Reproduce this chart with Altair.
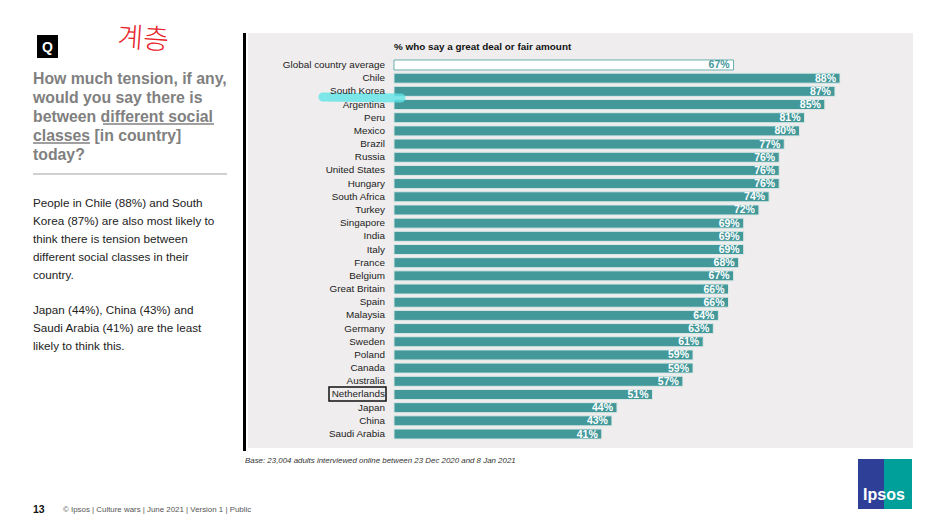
import altair as alt
import pandas as pd

countries = ["Global country average", "Chile", "South Korea", "Argentina", "Peru", "Mexico",
             "Brazil", "Russia", "United States", "Hungary", "South Africa", "Turkey",
             "Singapore", "India", "Italy", "France", "Belgium", "Great Britain", "Spain",
             "Malaysia", "Germany", "Sweden", "Poland", "Canada", "Australia", "Netherlands",
             "Japan", "China", "Saudi Arabia"]
values = [67, 88, 87, 85, 81, 80, 77, 76, 76, 76, 74, 72, 69, 69, 69, 68, 67, 66, 66,
          64, 63, 61, 59, 59, 57, 51, 44, 43, 41]

chart_title = "% who say a great deal or fair amount"
question_lines = ["How much tension, if any,", "would you say there is",
                  "between different social", "classes [in country]", "today?"]
body1 = ["People in Chile (88%) and South", "Korea (87%) are also most likely to",
         "think there is tension between", "different social classes in their", "country."]
body2 = ["Japan (44%), China (43%) and", "Saudi Arabia (41%) are the least",
         "likely to think this."]
base_note = "Base: 23,004 adults interviewed online between 23 Dec 2020 and 8 Jan 2021"
footer = "© Ipsos | Culture wars | June 2021 | Version 1 | Public"
page_no = "13"
handnote = "계층"

df = pd.DataFrame({"country": countries, "value": values})
one = pd.DataFrame({"k": [0]})

TEAL = "#43989A"
FONT = "Liberation Sans"
is_global = alt.datum.country == "Global country average"

xs = alt.Scale(domain=[-28.8, 102.4], nice=False, zero=False)
ys = alt.Scale(domain=countries, range=[25.4, 407.6], paddingInner=0.24, paddingOuter=0.12)

base = alt.Chart(df).encode(
    y=alt.Y("country:N", sort=countries, scale=ys, axis=None)
)

bars = base.mark_bar(strokeWidth=1).encode(
    x=alt.X("value:Q", scale=xs, axis=None),
    x2=alt.datum(0),
    fill=alt.condition(is_global, alt.value("white"), alt.value(TEAL)),
    stroke=alt.condition(is_global, alt.value("#6aaeae"), alt.value("#dbe9e7")),
)

pct = base.transform_calculate(label="format(datum.value, 'd') + '%'").mark_text(
    align="right", baseline="middle", dx=-4, dy=0.5, font=FONT, fontSize=10.5, fontWeight="bold"
).encode(
    x=alt.X("value:Q", scale=xs, axis=None),
    text="label:N",
    color=alt.condition(is_global, alt.value(TEAL), alt.value("white")),
)

names = base.mark_text(align="right", baseline="middle", dx=-9, font=FONT, fontSize=9.9,
                       color="#222222").encode(
    x=alt.datum(0),
    text="country:N",
)

title_t = alt.Chart(one).mark_text(align="left", baseline="middle", font=FONT, fontSize=9.9,
                                   fontWeight="bold", color="#111111", text=chart_title).encode(
    x=alt.datum(0), y=alt.value(14)
)

# slide decorations
def txt(text, x, y, **kw):
    return alt.Chart(one).mark_text(text=text, **kw).encode(x=alt.value(x), y=alt.value(y))

def rect(x, x2, y, y2, **kw):
    return alt.Chart(one).mark_rect(**kw).encode(
        x=alt.value(x), x2=alt.value(x2), y=alt.value(y), y2=alt.value(y2))

def rule(x, x2, y, y2, **kw):
    return alt.Chart(one).mark_rule(**kw).encode(
        x=alt.value(x), x2=alt.value(x2), y=alt.value(y), y2=alt.value(y2))

highlight = rule(75, 153, 64, 65, color="#5fe3e6", strokeWidth=9, strokeCap="round", opacity=0.8)

deco = [
    rule(-3.5, -3.5, 0, 418, color="black", strokeWidth=3),
    rect(-211, -190, 2, 25, color="black"),
    txt("Q", -200.5, 14.5, align="center", baseline="middle", font=FONT, fontSize=14,
        fontWeight="bold", color="white"),
    txt(handnote, -105, 7, align="center", baseline="middle", font="Noto Sans CJK KR",
        fontSize=28, fontWeight=300, color="#e8232a", angle=4),
    txt("\n".join(question_lines), -215, 46, align="left", baseline="middle", font=FONT,
        fontSize=15.8, fontWeight="bold", color="#808080", lineBreak="\n", lineHeight=19),
    rule(-145, -34, 91, 91, color="#808080", strokeWidth=1.3),
    rule(-215, -158, 110, 110, color="#808080", strokeWidth=1.3),
    rule(-215, -21, 141, 141, color="#d0d0d0", strokeWidth=2),
    txt("\n".join(body1), -215, 170, align="left", baseline="middle", font=FONT,
        fontSize=11.7, color="#222222", lineBreak="\n", lineHeight=18),
    txt("\n".join(body2), -215, 277, align="left", baseline="middle", font=FONT,
        fontSize=11.7, color="#222222", lineBreak="\n", lineHeight=18),
    txt(base_note, -3, 428, align="left", baseline="middle", font=FONT, fontSize=7.9,
        fontStyle="italic", color="#333333"),
    txt(page_no, -215, 477, align="left", baseline="middle", font=FONT, fontSize=10.5,
        fontWeight="bold", color="#111111"),
    txt(footer, -185, 477, align="left", baseline="middle", font=FONT, fontSize=7.9,
        color="#555555"),
    rect(610, 638, 426, 476, color="#2e3f98"),
    rect(636, 664, 426, 476, color="#00a09a"),
    txt("Ipsos", 636, 462, align="center", baseline="middle", font=FONT, fontSize=16,
        fontWeight="bold", color="white"),
    rect(81, 138, 354, 368, fill=None, fillOpacity=0, stroke="#111111", strokeWidth=1.5),
]

chart = alt.layer(bars, highlight, pct, names, title_t, *deco).properties(
    width=665, height=415,
    autosize=alt.AutoSizeParams(type="none"),
    padding={"left": 240, "top": 25, "right": 28, "bottom": 68},
    background="white",
).configure_view(stroke=None, fill="#EFEDED")

chart.save("out.html", embed_options={"renderer": "svg", "actions": False})
